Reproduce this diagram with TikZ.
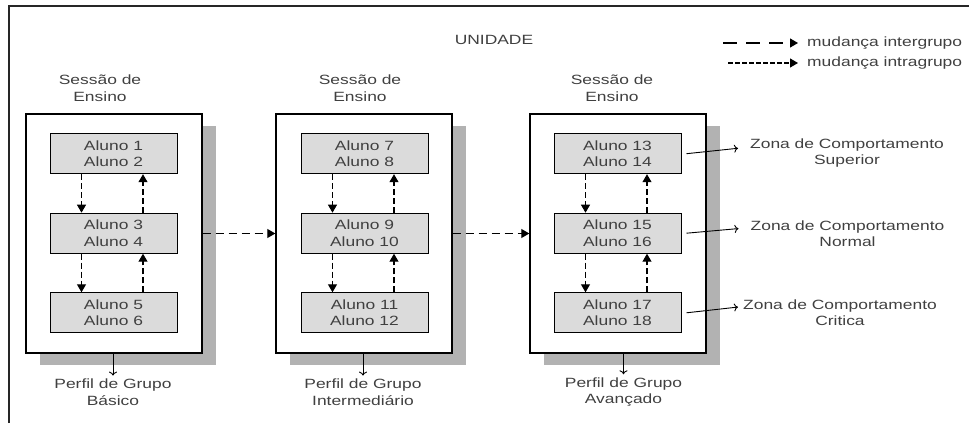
\documentclass[tikz,border=0pt]{standalone}
\usepackage{fontspec}
\setmainfont{Liberation Sans}[FakeStretch=1.3]
\usetikzlibrary{arrows.meta,shadows}

\tikzset{
  sessao/.style={draw=black, line width=1.4pt, fill=white, minimum width=176pt, minimum height=239pt, inner sep=0pt,
    drop shadow={shadow xshift=14pt, shadow yshift=-12pt, fill=black!30, opacity=1}},
  aluno/.style={draw=black, line width=1pt, fill=black!14, minimum width=127pt, minimum height=40pt, inner sep=0pt, align=center},
  rotulo/.style={align=center, inner sep=0pt},
  intra/.style={line width=1.1pt, dash pattern=on 6pt off 3pt, -{Triangle[length=8pt,width=9pt]}},
  inter/.style={line width=1.1pt, dash pattern=on 8pt off 5pt, -{Triangle[length=8pt,width=9pt]}},
  seta/.style={line width=0.9pt, -{To[length=4pt,width=8pt]}}
}

\begin{document}
\begin{tikzpicture}[x=1pt, y=-1pt, font=\fontsize{13.4}{16.5}\selectfont, text=black!75]
\useasboundingbox (0,0) rectangle (969,423);

% Moldura
\draw[line width=1.2pt, black!85] (9,423) -- (9,6) -- (969,6);
\node[rotulo] (unid) at (494,40) {UNIDADE};

% Legenda
\coordinate (li1) at (723,43);
\coordinate (li2) at (728,63);
\node[rotulo, anchor=west] (l1) at (807,43) {mudança intergrupo};
\node[rotulo, anchor=west] (l2) at (807,63) {mudança intragrupo};
\draw[line width=1.1pt, dash pattern=on 14pt off 9pt, -{Triangle[length=8pt,width=9pt]}, shorten >=9pt] (li1) -- (l1.west);
\draw[line width=1.1pt, dash pattern=on 5pt off 2pt, -{Triangle[length=8pt,width=9pt]}, shorten >=9pt] (li2) -- (l2.west);

% Sessao 1 (Basico)
\begin{scope}
\node[sessao] (s1) at (114,233.5) {};
\node[aluno] (a1) at (113.5,153.7) {Aluno 1\\Aluno 2};
\node[aluno] (a3) at (113.5,233.2) {Aluno 3\\Aluno 4};
\node[aluno] (a5) at (113.5,312.8) {Aluno 5\\Aluno 6};
\draw[intra] ([xshift=-32pt]a1.south) -- ([xshift=-32pt]a3.north);
\draw[intra] ([xshift=29.5pt]a3.north) -- ([xshift=29.5pt]a1.south);
\draw[intra] ([xshift=-32pt]a3.south) -- ([xshift=-32pt]a5.north);
\draw[intra] ([xshift=29.5pt]a5.north) -- ([xshift=29.5pt]a3.south);
\node[rotulo] (e1) at (100,88) {Sessão de\\Ensino};
\node[rotulo, inner ysep=3pt] (p1) at (113,392) {Perfil de Grupo\\Básico};
\draw[seta] (s1.south -| p1.north) -- (p1.north);
\end{scope}

% Sessao 2 (Intermediario)
\begin{scope}[xshift=250pt]
\node[sessao] (s2) at (114,233.5) {};
\node[aluno] (a7) at (114.5,153.7) {Aluno 7\\Aluno 8};
\node[aluno] (a9) at (114.5,233.2) {Aluno 9\\Aluno 10};
\node[aluno] (a11) at (114.5,312.8) {Aluno 11\\Aluno 12};
\draw[intra] ([xshift=-32pt]a7.south) -- ([xshift=-32pt]a9.north);
\draw[intra] ([xshift=29.5pt]a9.north) -- ([xshift=29.5pt]a7.south);
\draw[intra] ([xshift=-32pt]a9.south) -- ([xshift=-32pt]a11.north);
\draw[intra] ([xshift=29.5pt]a11.north) -- ([xshift=29.5pt]a9.south);
\node[rotulo] (e2) at (110,88) {Sessão de\\Ensino};
\node[rotulo, inner ysep=3pt] (p2) at (113,392) {Perfil de Grupo\\Intermediário};
\draw[seta] (s2.south -| p2.north) -- (p2.north);
\end{scope}

% Sessao 3 (Avancado)
\begin{scope}[xshift=504pt]
\node[sessao] (s3) at (114,233.5) {};
\node[aluno] (a13) at (113.5,153.7) {Aluno 13\\Aluno 14};
\node[aluno] (a15) at (113.5,233.2) {Aluno 15\\Aluno 16};
\node[aluno] (a17) at (113.5,312.8) {Aluno 17\\Aluno 18};
\draw[intra] ([xshift=-32pt]a13.south) -- ([xshift=-32pt]a15.north);
\draw[intra] ([xshift=29.5pt]a15.north) -- ([xshift=29.5pt]a13.south);
\draw[intra] ([xshift=-32pt]a15.south) -- ([xshift=-32pt]a17.north);
\draw[intra] ([xshift=29.5pt]a17.north) -- ([xshift=29.5pt]a15.south);
\node[rotulo] (e3) at (108,88) {Sessão de\\Ensino};
\node[rotulo, inner ysep=3pt] (p3) at (119.5,392) {Perfil de Grupo\\Avançado};
\draw[seta] (s3.south -| p3.north) -- (p3.north);
\end{scope}

% Mudancas entre sessoes
\draw[inter] (s1.east) -- (s2.west);
\draw[inter] (s2.east) -- (s3.west);

% Zonas de comportamento
\node[rotulo] (z1) at (847,153) {Zona de Comportamento\\Superior};
\node[rotulo] (z2) at (847.5,233.5) {Zona de Comportamento\\Normal};
\node[rotulo] (z3) at (840,312.5) {Zona de Comportamento\\Critica};
\draw[seta, shorten >=12pt] ([xshift=5pt]a13.east) -- ([yshift=6pt]z1.west);
\draw[seta, shorten >=12pt] ([xshift=5pt]a15.east) -- ([yshift=6pt]z2.west);
\draw[seta, shorten >=5pt] ([xshift=5pt]a17.east) -- ([yshift=6pt]z3.west);
\end{tikzpicture}
\end{document}
